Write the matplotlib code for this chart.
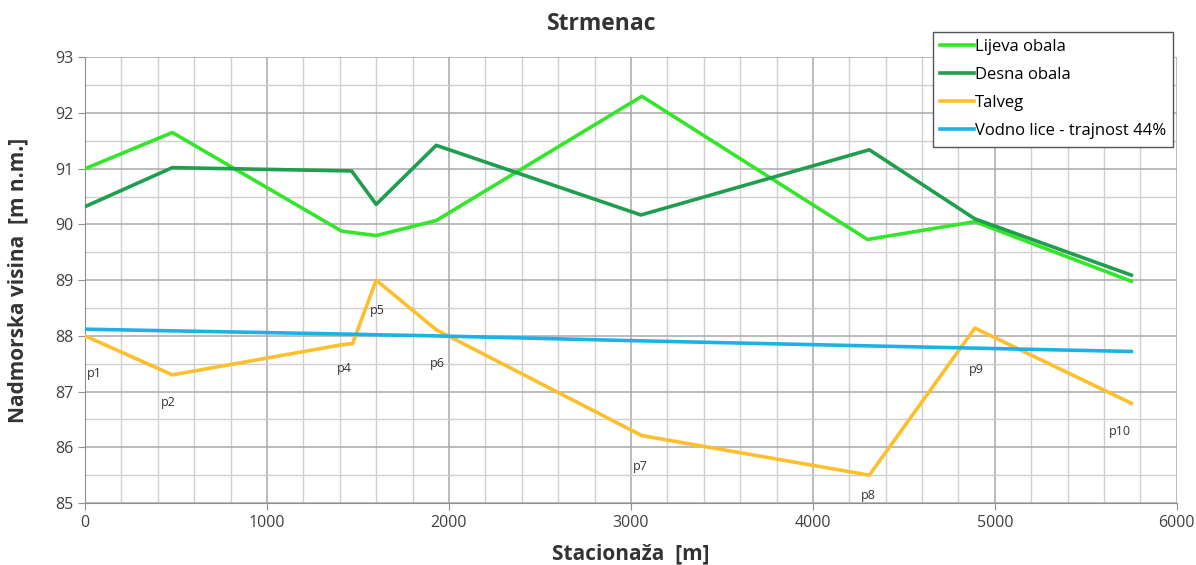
import matplotlib.pyplot as plt
from matplotlib.ticker import MultipleLocator

plt.rcParams['font.family'] = ['Open Sans', 'DejaVu Sans']

# stacionaža [m]
x_lijeva = [0, 480, 1410, 1600, 1930, 3060, 4300, 4890, 5750]
y_lijeva = [91.0, 91.65, 89.88, 89.80, 90.07, 92.30, 89.73, 90.05, 88.98]

x_desna = [0, 480, 1465, 1600, 1930, 3055, 4310, 4890, 5750]
y_desna = [90.32, 91.02, 90.96, 90.36, 91.42, 90.17, 91.34, 90.10, 89.09]

x_talveg = [0, 480, 1410, 1470, 1600, 1930, 3060, 4310, 4890, 5750]
y_talveg = [88.0, 87.30, 87.84, 87.86, 89.0, 88.11, 86.21, 85.50, 88.14, 86.79]
labels_talveg = ['p1', 'p2', '', 'p4', 'p5', 'p6', 'p7', 'p8', 'p9', 'p10']

x_vodno = [0, 480, 1470, 1600, 1930, 3060, 4310, 4890, 5750]
y_vodno = [88.12, 88.09, 88.03, 88.02, 88.00, 87.91, 87.82, 87.78, 87.72]

fig = plt.figure(figsize=(11.96, 5.65), dpi=100)
ax = fig.add_axes([0.0711, 0.1097, 0.9129, 0.7889])

ax.plot(x_lijeva, y_lijeva, color='#33E62A', lw=2.6, label='Lijeva obala', zorder=3)
ax.plot(x_desna, y_desna, color='#1E9E4E', lw=2.6, label='Desna obala', zorder=3)
ax.plot(x_talveg, y_talveg, color='#FDBF2D', lw=2.6, label='Talveg', zorder=3)
ax.plot(x_vodno, y_vodno, color='#1CB2E6', lw=2.6, label='Vodno lice - trajnost 44%', zorder=3)

# oznake profila
offsets = {'p1': (7, -27), 'p2': (-3, -20), 'p4': (-6, -18), 'p5': (1, -22),
           'p6': (1, -24), 'p7': (-1, -22), 'p8': (-1, -15), 'p9': (1, -30),
           'p10': (-8, -20)}
for xx, yy, lab in zip(x_talveg, y_talveg, labels_talveg):
    if lab:
        ax.annotate(lab, (xx, yy), xytext=offsets[lab], textcoords='offset points',
                    ha='center', va='center', fontsize=9, color='#333333')

ax.set_xlim(0, 6000)
ax.set_ylim(85, 93)
ax.xaxis.set_major_locator(MultipleLocator(1000))
ax.xaxis.set_minor_locator(MultipleLocator(200))
ax.yaxis.set_major_locator(MultipleLocator(1))
ax.yaxis.set_minor_locator(MultipleLocator(0.5))
ax.grid(which='major', color='#a8a8a8', lw=1.1)
ax.grid(which='minor', color='#cfcfcf', lw=1.0)
ax.set_axisbelow(True)
ax.tick_params(which='major', length=5, color='#909090', labelsize=11.5, labelcolor='#404040')
ax.tick_params(which='minor', length=0)
for s in ['top', 'right']:
    ax.spines[s].set_visible(False)
for s in ['left', 'bottom']:
    ax.spines[s].set_color('#909090')

ax.set_xlabel('Stacionaža  [m]', fontsize=15, fontweight='bold', color='#333333', labelpad=9)
ax.set_ylabel('Nadmorska visina  [m n.m.]', fontsize=15, fontweight='bold', color='#333333')
ax.yaxis.set_label_coords(-0.052, 0.5)
fig.text(0.503, 0.958, 'Strmenac', ha='center', va='center', fontsize=16.5, fontweight='bold', color='#333333')

leg = fig.legend(loc='upper left', bbox_to_anchor=(0.780, 0.944), fontsize=12,
                 handlelength=2.0, handletextpad=0.05, borderpad=0.45, labelspacing=0.72,
                 borderaxespad=0, fancybox=False, framealpha=1, edgecolor='#555555')
leg.get_frame().set_linewidth(1.0)

fig.savefig('out.png', dpi=100)
